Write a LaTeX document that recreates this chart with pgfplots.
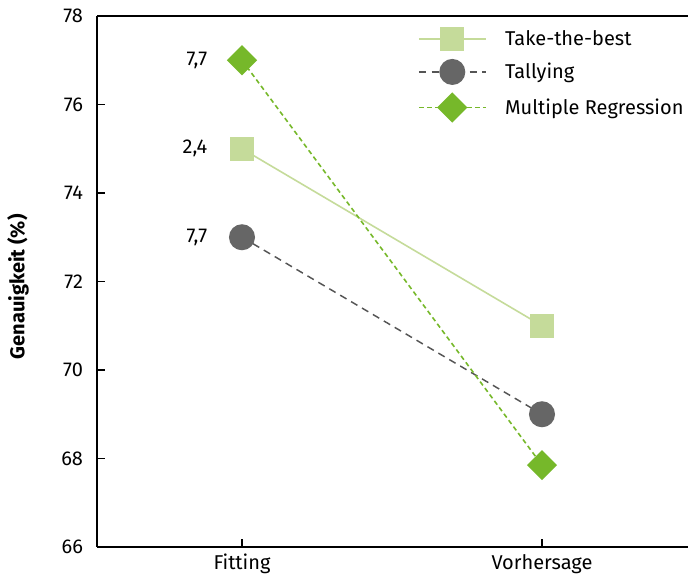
\documentclass[border=0pt]{standalone}
\usepackage{pgfplots}
\pgfplotsset{compat=1.18}
\usepackage{fontspec}
\setmainfont{Fira Sans}
\definecolor{ttb}{HTML}{C5DB9A}
\definecolor{tal}{HTML}{666666}
\definecolor{taline}{HTML}{555555}
\definecolor{mr}{HTML}{76B82A}
\begin{document}
\begin{tikzpicture}
\begin{axis}[
  scale only axis,
  width=443.25pt, height=398.25pt,
  xmin=-0.4833, xmax=1.4867,
  ymin=66, ymax=78,
  ytick={66,68,...,78},
  xtick={0,1}, xticklabels={Fitting,Vorhersage},
  axis x line*=box, axis y line*=left,
  xtick pos=bottom, ytick pos=left,
  tick align=inside,
  major tick length=6pt,
  axis line style={black, line width=0.9pt},
  tick style={black, line width=0.9pt},
  /pgf/number format/assume math mode=true,
  ticklabel style={font=\fontsize{15}{18}\selectfont},
  yticklabel style={xshift=-7pt},
  xticklabel style={yshift=-2pt},
  ylabel={\bfseries Genauigkeit (\%)},
  ylabel style={font=\fontsize{15}{18}\selectfont, at={(axis description cs:-0.1336,0.49)}, anchor=center},
  legend style={draw=none, fill=none, font=\fontsize{15}{18}\selectfont,
    at={(axis description cs:0.543,0.978)}, anchor=north west,
    row sep=7pt, inner sep=0pt,
    /tikz/every odd column/.append style={column sep=12pt}},
  legend cell align=left,
  legend image code/.code={\draw[mark repeat=2,mark phase=2] plot coordinates {(0pt,0pt) (25pt,0pt) (50pt,0pt)};},
  clip=false,
]
\addplot[color=ttb, line width=1.2pt, mark=square*, mark size=8.4pt, mark options={solid, fill=ttb, draw=ttb}]
  coordinates {(0,75) (1,71)};
\addlegendentry{Take-the-best}
\addplot[color=taline, line width=1.1pt, dash pattern=on 5.5pt off 4pt, mark=*, mark size=9.2pt, mark options={solid, fill=tal, draw=tal}]
  coordinates {(0,73) (1,69)};
\addlegendentry{Tallying}
\addplot[color=mr, line width=1.2pt, dash pattern=on 3.5pt off 2.5pt, mark=square*, mark size=7.4pt, mark options={solid, rotate=45, fill=mr, draw=mr}]
  coordinates {(0,77) (1,67.85)};
\addlegendentry{Multiple Regression}
\node[anchor=east, font=\fontsize{15}{18}\selectfont] at (axis cs:-0.1,77) {7,7};
\node[anchor=east, font=\fontsize{15}{18}\selectfont] at (axis cs:-0.1,75) {2,4};
\node[anchor=east, font=\fontsize{15}{18}\selectfont] at (axis cs:-0.1,73) {7,7};
\end{axis}
\pgfresetboundingbox
\useasboundingbox (-72.75pt,-24.75pt) rectangle (443.25pt,410.25pt);
\end{tikzpicture}
\end{document}
